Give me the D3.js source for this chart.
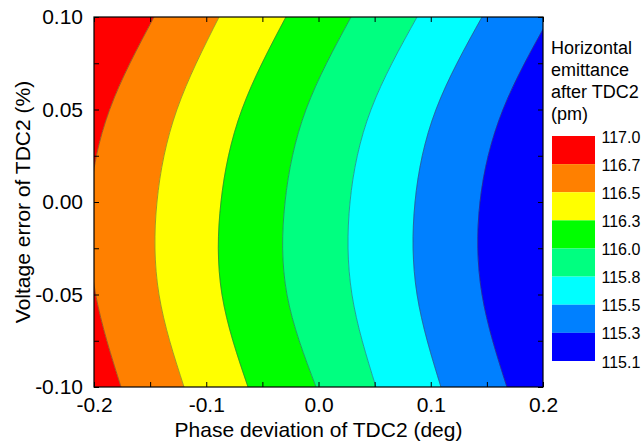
<!DOCTYPE html>
<html><head><meta charset="utf-8">
<script src="https://cdn.jsdelivr.net/npm/d3@7"></script>
<style>
body{margin:0;background:#fff}
svg{display:block}
text{font-family:"Liberation Sans",Arial,Helvetica,sans-serif;fill:#000}
</style>
</head><body>
<svg id="chart" width="643" height="446"></svg>
<script>
// ---- data ----
// y positions (voltage error, %) at which each contour boundary was read
const yLevels = [-0.1, -0.05, 0, 0.05, 0.1];
// x position (phase deviation, deg) of each contour boundary at yLevels
const edge116_7 = [-0.1759, -0.1985, -0.2035, -0.1860, -0.1465];
const edge116_5 = [-0.1198, -0.1421, -0.1439, -0.1261, -0.0886];
const edge116_3 = [-0.0628, -0.0860, -0.0869, -0.0682, -0.0290];
const edge116_0 = [-0.0022, -0.0281, -0.0298, -0.0111, 0.0290];
const edge115_8 = [0.0512, 0.0298, 0.0281, 0.0468, 0.0878];
const edge115_5 = [0.1091, 0.0878, 0.0860, 0.1047, 0.1457];
const edge115_3 = [0.1679, 0.1457, 0.1439, 0.1644, 0.2062];
const edges = [edge116_7, edge116_5, edge116_3, edge116_0, edge115_8, edge115_5, edge115_3];

const legendLabels = ["117.0", "116.7", "116.5", "116.3", "116.0", "115.8", "115.5", "115.3", "115.1"];
const legendTitle = ["Horizontal", "emittance", "after TDC2", "(pm)"];
const xTicks = [-0.2, -0.15, -0.1, -0.05, 0, 0.05, 0.1, 0.15, 0.2];
const xTickLabels = [-0.2, -0.1, 0, 0.1, 0.2];
const yTicks = [-0.1, -0.075, -0.05, -0.025, 0, 0.025, 0.05, 0.075, 0.1];
const yTickLabels = [-0.1, -0.05, 0, 0.05, 0.1];
const xTitle = "Phase deviation of TDC2 (deg)";
const yTitle = "Voltage error of TDC2 (%)";

// ---- styles ----
const bandColors = ["#FF0000", "#FF8000", "#FFFF00", "#00FF00", "#00FF80", "#00FFFF", "#0080FF", "#0000FF"];

const svg = d3.select("#chart");
const L = 94, R = 543, T = 17, B = 387;
const x = d3.scaleLinear().domain([-0.2, 0.2]).range([L, R]);
const y = d3.scaleLinear().domain([-0.1, 0.1]).range([B, T]);

svg.append("defs").append("clipPath").attr("id", "plotclip")
  .append("rect").attr("x", L).attr("y", T).attr("width", R - L).attr("height", B - T);

const plot = svg.append("g").attr("clip-path", "url(#plotclip)");

const farLeft = yLevels.map(() => -0.3);
const farRight = yLevels.map(() => 0.3);
const area = d3.area()
  .y(d => y(d.y)).x0(d => x(d.x0)).x1(d => x(d.x1))
  .curve(d3.curveNatural);

bandColors.forEach((c, k) => {
  const left = k === 0 ? farLeft : edges[k - 1];
  const right = k === bandColors.length - 1 ? farRight : edges[k];
  const pts = yLevels.map((yy, i) => ({ y: yy, x0: left[i], x1: right[i] }));
  plot.append("path").attr("d", area(pts)).attr("fill", c).attr("stroke", c).attr("stroke-width", 0.6);
});

const line = d3.line().x(d => x(d.x)).y(d => y(d.y)).curve(d3.curveNatural);
edges.forEach(e => {
  plot.append("path")
    .attr("d", line(yLevels.map((yy, i) => ({ x: e[i], y: yy }))))
    .attr("fill", "none").attr("stroke", "#3a3a3a").attr("stroke-width", 0.6).attr("stroke-opacity", 0.8);
});

// ---- axes ----
const hy = s => s.replace("\u2212", "-");
const fmtX = d => xTickLabels.some(v => Math.abs(v - d) < 1e-9) ? hy(d3.format(".1f")(d)) : "";
const fmtY = d => yTickLabels.some(v => Math.abs(v - d) < 1e-9) ? hy(d3.format(".2f")(d)) : "";

const styleAxis = g => {
  g.select(".domain").remove();
  g.selectAll(".tick line").attr("stroke", "#000").attr("stroke-width", 1);
  g.selectAll(".tick text").style("font-size", "21px").attr("fill", "#000");
};

svg.append("g").attr("transform", `translate(0,${B})`)
  .call(d3.axisBottom(x).tickValues(xTicks).tickFormat(fmtX).tickSizeInner(-5).tickSizeOuter(0).tickPadding(10))
  .call(styleAxis);
svg.append("g").attr("transform", `translate(0,${T})`)
  .call(d3.axisTop(x).tickValues(xTicks).tickFormat("").tickSizeInner(-5).tickSizeOuter(0))
  .call(styleAxis);
svg.append("g").attr("transform", `translate(${L},0)`)
  .call(d3.axisLeft(y).tickValues(yTicks).tickFormat(fmtY).tickSizeInner(-5).tickSizeOuter(0).tickPadding(11))
  .call(styleAxis);
svg.append("g").attr("transform", `translate(${R},0)`)
  .call(d3.axisRight(y).tickValues(yTicks).tickFormat("").tickSizeInner(-5).tickSizeOuter(0))
  .call(styleAxis);

svg.append("rect").attr("x", L).attr("y", T).attr("width", R - L).attr("height", B - T)
  .attr("fill", "none").attr("stroke", "#000").attr("stroke-width", 1.2);

svg.append("text").attr("x", (L + R) / 2).attr("y", 437).attr("text-anchor", "middle")
  .style("font-size", "21px").text(xTitle);
svg.append("text").attr("transform", `translate(30,${(T + B) / 2}) rotate(-90)`).attr("text-anchor", "middle")
  .style("font-size", "21px").text(yTitle);

// ---- legend ----
const legTitle = svg.append("text").style("font-size", "18px");
legendTitle.forEach((t, i) => {
  legTitle.append("tspan").attr("x", 551).attr("y", 54 + i * 22).text(t);
});
const ly = d3.scaleLinear().domain([0, bandColors.length]).range([136, 361]);
bandColors.forEach((c, k) => {
  svg.append("rect").attr("x", 552).attr("y", ly(k)).attr("width", 43).attr("height", ly(k + 1) - ly(k))
    .attr("fill", c);
});
legendLabels.forEach((t, i) => {
  svg.append("text").attr("x", 601.5).attr("y", ly(i) + 1).attr("dy", "0.35em")
    .style("font-size", "16px").text(t);
});
</script>
</body></html>
